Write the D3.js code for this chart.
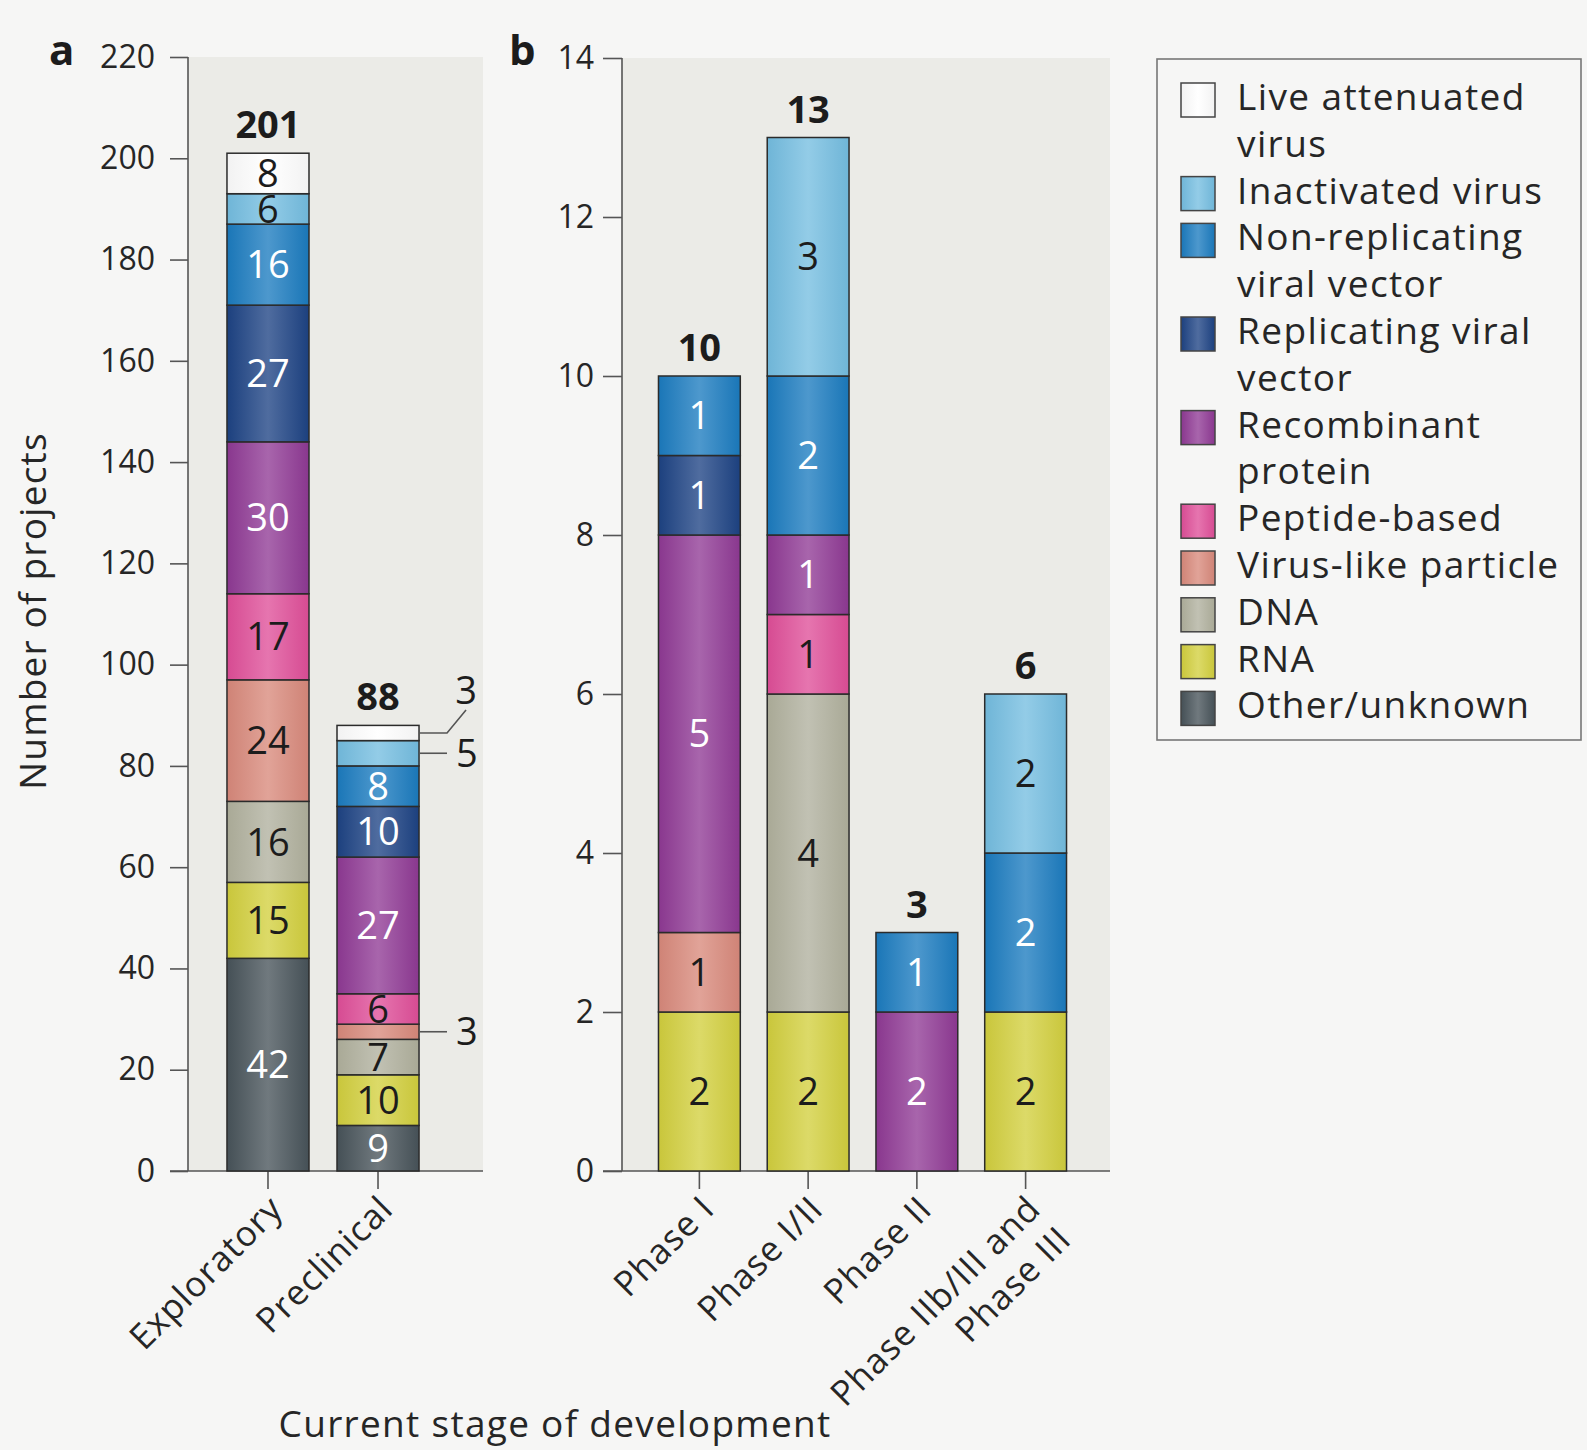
<!DOCTYPE html>
<html>
<head>
<meta charset="utf-8">
<script src="https://cdn.jsdelivr.net/npm/d3@7"></script>
<style>
  html, body { margin: 0; padding: 0; background: #f6f6f5; }
  svg { display: block; }
  text { font-family: "Open Sans", "DejaVu Sans", sans-serif; }
</style>
</head>
<body>
<svg id="chart" width="1587" height="1450"></svg>
<script>
// ---- Data -------------------------------------------------------------
// Vaccine platforms, listed top of stack first (legend order)
const vaccineTypes = [
  "Live attenuated virus", "Inactivated virus", "Non-replicating viral vector",
  "Replicating viral vector", "Recombinant protein", "Peptide-based",
  "Virus-like particle", "DNA", "RNA", "Other/unknown"
];
const legendLines = [
  ["Live attenuated", "virus"], ["Inactivated virus"], ["Non-replicating", "viral vector"],
  ["Replicating viral", "vector"], ["Recombinant", "protein"], ["Peptide-based"],
  ["Virus-like particle"], ["DNA"], ["RNA"], ["Other/unknown"]
];
const typeColors = [
  "#ffffff", "#74bde0", "#1b7bbf", "#1d4384", "#8f3994",
  "#df4e98", "#d8897b", "#b0b09d", "#d2cf3e", "#48535a"
];
// Which platforms carry white value labels
const whiteLabelTypes = ["Non-replicating viral vector", "Replicating viral vector", "Recombinant protein", "Other/unknown"];

// Panel a stages
const stagesA = ["Exploratory", "Preclinical"];
// Panel b stages (multi-line tick labels)
const stagesB = ["Phase I", "Phase I/II", "Phase II", "Phase IIb/III and\nPhase III"];

// Project counts per stage, in vaccineTypes order
const exploratory = [8, 6, 16, 27, 30, 17, 24, 16, 15, 42];
const preclinical = [3, 5, 8, 10, 27, 6, 3, 7, 10, 9];
const phaseI      = [0, 0, 1, 1, 5, 0, 1, 0, 2, 0];
const phaseI_II   = [0, 3, 2, 0, 1, 1, 0, 4, 2, 0];
const phaseII     = [0, 0, 1, 0, 2, 0, 0, 0, 0, 0];
const phaseIII    = [0, 2, 2, 0, 0, 0, 0, 0, 2, 0];

// Y-axis ticks
const ticksA = [0, 20, 40, 60, 80, 100, 120, 140, 160, 180, 200, 220];
const ticksB = [0, 2, 4, 6, 8, 10, 12, 14];

// Small segments labelled outside the bar with leader lines
const callouts = [
  { stage: "Preclinical", type: "Live attenuated virus", diagonal: true },
  { stage: "Preclinical", type: "Inactivated virus", diagonal: false },
  { stage: "Preclinical", type: "Virus-like particle", diagonal: false }
];

// ---- Helpers ------------------------------------------------------------
const ink = "#1c1c1c";
const svg = d3.select("#chart");
const defs = svg.append("defs");

// Cylindrical sheen: darker edges, lighter centre
vaccineTypes.forEach((t, i) => {
  const base = d3.color(typeColors[i]);
  const light = d3.interpolateRgb(base, "#ffffff")(i === 0 ? 0 : 0.22);
  const edge = i === 0 ? d3.color("#f2f2f2") : base.darker(0.12);
  const g = defs.append("linearGradient").attr("id", "grad" + i)
    .attr("x1", "0").attr("x2", "1").attr("y1", "0").attr("y2", "0");
  g.append("stop").attr("offset", "0%").attr("stop-color", edge);
  g.append("stop").attr("offset", "50%").attr("stop-color", light);
  g.append("stop").attr("offset", "100%").attr("stop-color", edge);
});
const fillOf = t => "url(#grad" + vaccineTypes.indexOf(t) + ")";

const stackOrder = vaccineTypes.slice().reverse(); // bottom -> top

function buildRows(stages, columns) {
  return stages.map((s, j) => {
    const row = { stage: s };
    vaccineTypes.forEach((t, i) => { row[t] = columns[j][i]; });
    row.total = d3.sum(columns[j]);
    return row;
  });
}

const baseY = 1171;

function drawPanel(opts) {
  const { rows, stages, ticks, yMax, axisX, rightX, topY, xRange, paddingInner, paddingOuter,
          tickLen, tickPad, letter, letterX } = opts;
  const g = svg.append("g");
  const y = d3.scaleLinear().domain([0, yMax]).range([baseY, topY]);
  const x = d3.scaleBand().domain(stages).range(xRange)
    .paddingInner(paddingInner).paddingOuter(paddingOuter);

  // plot background
  g.append("rect").attr("x", axisX).attr("y", topY)
    .attr("width", rightX - axisX).attr("height", baseY - topY).attr("fill", "#ebebe7");

  // y axis
  const yAxis = d3.axisLeft(y).tickValues(ticks).tickSize(tickLen).tickPadding(tickPad)
    .tickFormat(d3.format("d"));
  const ya = g.append("g").attr("transform", `translate(${axisX},0)`).call(yAxis);
  ya.select(".domain").attr("stroke", "#555").attr("stroke-width", 1.6)
    .attr("d", `M0,${topY}V${baseY}`);
  ya.selectAll(".tick line").attr("stroke", "#555").attr("stroke-width", 1.6);
  ya.selectAll(".tick text").attr("font-size", 32).attr("fill", "#262626")
    .style("font-family", "'Open Sans', sans-serif");

  // x axis baseline and ticks
  const xAxis = d3.axisBottom(x).tickSize(18).tickFormat("");
  const xa = g.append("g").attr("transform", `translate(0,${baseY})`).call(xAxis);
  xa.select(".domain").attr("stroke", "#555").attr("stroke-width", 1.6)
    .attr("d", `M${axisX - tickLen},0H${rightX}`);
  xa.selectAll(".tick line").attr("stroke", "#555").attr("stroke-width", 1.6);

  // rotated category labels
  stages.forEach(s => {
    const cx = x(s) + x.bandwidth() / 2;
    const lines = s.split("\n");
    const t = g.append("text")
      .attr("transform", `translate(${cx + 17},${baseY + 40}) rotate(-45)`)
      .attr("text-anchor", "end").attr("font-size", 35).attr("letter-spacing", 1)
      .attr("fill", "#262626");
    lines.forEach((ln, k) => {
      t.append("tspan").attr("x", 0).attr("y", k * 43).text(ln);
    });
  });

  // stacked bars
  const series = d3.stack().keys(stackOrder)(rows);
  const segs = [];
  series.forEach(sr => {
    sr.forEach(d => {
      const v = d[1] - d[0];
      if (v > 0) segs.push({ type: sr.key, stage: d.data.stage, y0: d[0], y1: d[1], v });
    });
  });
  g.selectAll("rect.seg").data(segs).join("rect").attr("class", "seg")
    .attr("x", d => x(d.stage)).attr("width", x.bandwidth())
    .attr("y", d => y(d.y1)).attr("height", d => y(d.y0) - y(d.y1))
    .attr("fill", d => fillOf(d.type))
    .attr("stroke", "#2b2b2b").attr("stroke-width", 1.5);

  // value labels
  const isCallout = d => callouts.some(c => c.stage === d.stage && c.type === d.type);
  g.selectAll("text.val").data(segs.filter(d => !isCallout(d))).join("text").attr("class", "val")
    .attr("x", d => x(d.stage) + x.bandwidth() / 2)
    .attr("y", d => (y(d.y0) + y(d.y1)) / 2)
    .attr("dy", "0.36em").attr("text-anchor", "middle").attr("font-size", 38)
    .attr("fill", d => whiteLabelTypes.includes(d.type) ? "#ffffff" : ink)
    .text(d => d.v);

  // leader-line labels
  segs.filter(isCallout).forEach(d => {
    const c = callouts.find(c => c.stage === d.stage && c.type === d.type);
    const x0 = x(d.stage) + x.bandwidth();
    const ym = (y(d.y0) + y(d.y1)) / 2;
    if (c.diagonal) {
      g.append("path").attr("d", `M${x0},${ym}H${x0 + 28}L${x0 + 47},${ym - 23}`)
        .attr("fill", "none").attr("stroke", "#555").attr("stroke-width", 1.6);
      g.append("text").attr("x", x0 + 47).attr("y", ym - 29).attr("text-anchor", "middle")
        .attr("font-size", 38).attr("fill", ink).text(d.v);
    } else {
      g.append("path").attr("d", `M${x0},${ym}H${x0 + 28}`)
        .attr("fill", "none").attr("stroke", "#555").attr("stroke-width", 1.6);
      g.append("text").attr("x", x0 + 37).attr("y", ym).attr("dy", "0.36em")
        .attr("font-size", 38).attr("fill", ink).text(d.v);
    }
  });

  // totals
  g.selectAll("text.total").data(rows).join("text").attr("class", "total")
    .attr("x", d => x(d.stage) + x.bandwidth() / 2)
    .attr("y", d => y(d.total) - 15)
    .attr("text-anchor", "middle").attr("font-size", 38).attr("font-weight", 700)
    .attr("fill", ink).text(d => d.total);

  // panel letter
  g.append("text").attr("x", letterX).attr("y", 65).attr("font-size", 42)
    .attr("font-weight", 700).attr("fill", ink).text(letter);
}

drawPanel({
  rows: buildRows(stagesA, [exploratory, preclinical]),
  stages: stagesA, ticks: ticksA, yMax: 220,
  axisX: 188, rightX: 483, topY: 57,
  xRange: [213, 433], paddingInner: 0.2545, paddingOuter: 0.127,
  tickLen: 18, tickPad: 15, letter: "a", letterX: 49
});

drawPanel({
  rows: buildRows(stagesB, [phaseI, phaseI_II, phaseII, phaseIII]),
  stages: stagesB, ticks: ticksB, yMax: 14,
  axisX: 622, rightX: 1110, topY: 58,
  xRange: [645, 1080], paddingInner: 0.2477, paddingOuter: 0.124,
  tickLen: 19, tickPad: 9, letter: "b", letterX: 509
});

// axis titles
svg.append("text").attr("transform", "translate(46,611) rotate(-90)")
  .attr("text-anchor", "middle").attr("font-size", 37).attr("letter-spacing", 1.2)
  .attr("fill", "#262626").text("Number of projects");
svg.append("text").attr("x", 555).attr("y", 1437)
  .attr("text-anchor", "middle").attr("font-size", 37).attr("letter-spacing", 1.3)
  .attr("fill", "#262626").text("Current stage of development");

// ---- Legend -------------------------------------------------------------
const legend = svg.append("g");
legend.append("rect").attr("x", 1157).attr("y", 59).attr("width", 424).attr("height", 681)
  .attr("fill", "#f6f6f5").attr("stroke", "#777").attr("stroke-width", 1.6);
const lineH = 46.8;
let lineIdx = 0;
vaccineTypes.forEach((t, i) => {
  const baseline = 110 + lineIdx * lineH;
  legend.append("rect").attr("x", 1181).attr("y", baseline - 27).attr("width", 34).attr("height", 34)
    .attr("fill", fillOf(t)).attr("stroke", "#444").attr("stroke-width", 1.5);
  const txt = legend.append("text").attr("font-size", 37).attr("letter-spacing", 1.4).attr("fill", "#262626");
  legendLines[i].forEach((ln, k) => {
    txt.append("tspan").attr("x", 1237).attr("y", baseline + k * lineH).text(ln);
  });
  lineIdx += legendLines[i].length;
});
</script>
</body>
</html>
